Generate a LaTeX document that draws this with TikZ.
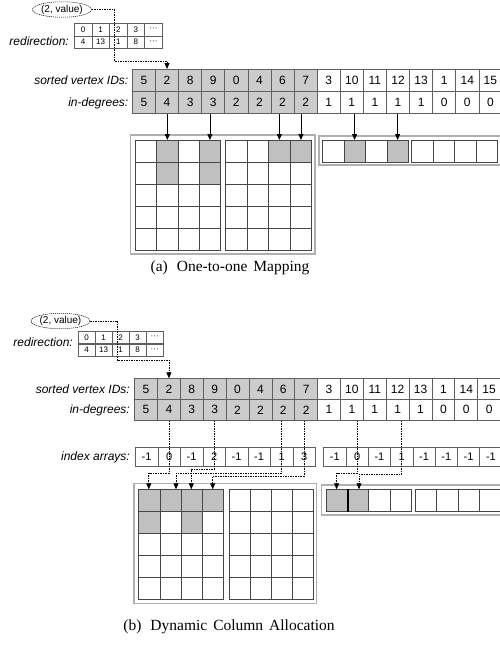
\documentclass[tikz,border=0pt]{standalone}
\usepackage{fontspec}
\setmainfont{Liberation Serif}
\setsansfont{Liberation Sans}
\usetikzlibrary{arrows.meta,backgrounds,shapes.geometric}
\definecolor{cellgray}{RGB}{204,204,204}
\definecolor{mgray}{RGB}{192,192,192}
\definecolor{bordergray}{RGB}{95,95,95}
\definecolor{gridgray}{RGB}{70,70,70}
\definecolor{boxgray}{RGB}{175,175,175}
\tikzset{
  lbl/.style={font=\sffamily\itshape\fontsize{12}{14}\selectfont, anchor=base east, inner sep=0pt},
  tcell/.style={draw=bordergray, line width=0.7pt, minimum width=23.1pt, minimum height=22.2pt, inner sep=0pt, anchor=north west, font=\sffamily\fontsize{12}{14}\selectfont},
  rcell/.style={draw=bordergray, line width=0.5pt, minimum width=17.6pt, minimum height=12.8pt, inner sep=0pt, anchor=north west, font=\sffamily\fontsize{8}{9}\selectfont},
  icell/.style={draw=bordergray, line width=0.7pt, minimum width=22.5pt, minimum height=18.2pt, inner sep=0pt, anchor=north west, font=\sffamily\fontsize{11}{13}\selectfont},
  mcell/.style={draw=gridgray, line width=0.7pt, minimum height=22pt, inner sep=0pt, anchor=north west},
  outerbox/.style={draw=boxgray, line width=1.2pt},
  ell/.style={ellipse, draw, dash pattern=on 1.2pt off 0.8pt, line width=0.5pt, inner sep=0pt, minimum width=48pt, minimum height=15.5pt, font=\sffamily\fontsize{10}{12}\selectfont},
  dotarr/.style={dash pattern=on 1.5pt off 1pt, line width=0.8pt, -{Triangle[length=6pt,width=5pt]}},
  arr/.style={line width=0.8pt, -{Triangle[length=6pt,width=5pt]}},
  capt/.style={font=\fontsize{15.5}{18}\selectfont, inner sep=0pt}
}
\begin{document}
\begin{tikzpicture}[x=1pt,y=-1pt]
\useasboundingbox (0,0) rectangle (500,646);

%================ (a) =================
% redirection table
\foreach \v [count=\i from 0] in {0,1,2,3,···}
  \node[rcell] (ra0-\i) at ({74+\i*17.6},22.7) {\v};
\foreach \v [count=\i from 0] in {4,13,1,8,···}
  \node[rcell] (ra1-\i) at ({74+\i*17.6},35.5) {\v};
\node[lbl] (rla) at (69,45.5) {redirection:};
\node[ell] (ea) at (62,9.5) {(2, value)};

% sorted IDs and in-degrees
\foreach \v [count=\i from 0] in {5,2,8,9,0,4,6,7}
  \node[tcell,fill=cellgray] (aid-\i) at ({132+\i*23.1},69) {\v};
\foreach \v [count=\i from 8] in {3,10,11,12,13,1,14,15}
  \node[tcell] (aid-\i) at ({132+\i*23.1},69) {\v};
\foreach \v [count=\i from 0] in {5,4,3,3,2,2,2,2}
  \node[tcell,fill=cellgray] (adg-\i) at ({132+\i*23.1},91.2) {\v};
\foreach \v [count=\i from 8] in {1,1,1,1,1,0,0,0}
  \node[tcell] (adg-\i) at ({132+\i*23.1},91.2) {\v};
\node[lbl] (lsa) at (128.5,84.5) {sorted vertex IDs:};
\node[lbl] (lda) at (128.5,106.7) {in-degrees:};

\coordinate (ka) at (114.3,61);
\draw[dotarr] (ea.east) -| (ka) -| (aid-1.north);

% matrices
\draw[outerbox] (130.7,135) rectangle (315,254);
\foreach \r in {0,...,4}
  \foreach \c in {0,...,3} {
    \node[mcell, minimum width=21.3pt] (am1-\r-\c) at ({135+\c*21.3},{140+\r*22}) {};
    \node[mcell, minimum width=21.6pt] (am2-\r-\c) at ({225+\c*21.6},{140+\r*22}) {};
  }
% row vectors
\draw[outerbox] (319,136) rectangle (506,165);
\foreach \c in {0,...,3} {
  \node[mcell, minimum width=21.5pt] (av1-\c) at ({322+\c*21.5},140) {};
  \node[mcell, minimum width=21.5pt] (av2-\c) at ({411+\c*21.5},140) {};
}
\draw[arr] (am1-0-1.north |- adg-1.south) -- (am1-0-1.north);
\draw[arr] (am1-0-3.north |- adg-3.south) -- (am1-0-3.north);
\draw[arr] (am2-0-2.north |- adg-6.south) -- (am2-0-2.north);
\draw[arr] (am2-0-3.north |- adg-7.south) -- (am2-0-3.north);
\draw[arr] (av1-1.north |- adg-9.south) -- (av1-1.north);
\draw[arr] (av1-3.north |- adg-11.south) -- (av1-3.north);

\node[capt] (capa) at (230,268) {(a)\hspace{9pt}One-to-one\hspace{6pt}Mapping};

%================ (b) =================
\foreach \v [count=\i from 0] in {0,1,2,3,···}
  \node[rcell, minimum width=17.06pt] (rb0-\i) at ({77.7+\i*17.06},330.7) {\v};
\foreach \v [count=\i from 0] in {4,13,1,8,···}
  \node[rcell, minimum width=17.06pt] (rb1-\i) at ({77.7+\i*17.06},343.4) {\v};
\node[lbl] (rlb) at (73,346.5) {redirection:};
\node[ell] (eb) at (60.5,321) {(2, value)};

\foreach \v [count=\i from 0] in {5,2,8,9,0,4,6,7}
  \node[tcell,fill=cellgray,minimum width=22.87pt,minimum height=20.7pt] (bid-\i) at ({134.3+\i*22.87},378.3) {\v};
\foreach \v [count=\i from 8] in {3,10,11,12,13,1,14,15}
  \node[tcell,minimum width=22.87pt,minimum height=20.7pt] (bid-\i) at ({134.3+\i*22.87},378.3) {\v};
\foreach \v [count=\i from 0] in {5,4,3,3,2,2,2,2}
  \node[tcell,fill=cellgray,minimum width=22.87pt,minimum height=21pt] (bdg-\i) at ({134.3+\i*22.87},399) {\v};
\foreach \v [count=\i from 8] in {1,1,1,1,1,0,0,0}
  \node[tcell,minimum width=22.87pt,minimum height=21pt] (bdg-\i) at ({134.3+\i*22.87},399) {\v};
\node[lbl] (lsb) at (130,393) {sorted vertex IDs:};
\node[lbl] (ldb) at (130,413.8) {in-degrees:};

\coordinate (kb) at (117.7,360);
\draw[dotarr] (eb.east) -| (kb) -| (bid-1.north);

% index arrays
\foreach \v [count=\i from 0] in {-1,0,-1,2,-1,-1,1,3}
  \node[icell] (bix1-\i) at ({135+\i*22.5},447.3) {\v};
\foreach \v [count=\i from 0] in {-1,0,-1,1,-1,-1,-1,-1}
  \node[icell, minimum width=22.3pt] (bix2-\i) at ({323.3+\i*22.3},447.3) {\v};
\node[lbl] (lib) at (130,460.7) {index arrays:};

% matrices
\draw[outerbox] (134,483.3) rectangle (316.7,603.5);
\foreach \r in {0,...,4}
  \foreach \c in {0,...,3} {
    \node[mcell, minimum width=21.25pt] (bm1-\r-\c) at ({138.3+\c*21.25},{489.3+\r*22}) {};
    \node[mcell, minimum width=21pt] (bm2-\r-\c) at ({229+\c*21},{489.3+\r*22}) {};
  }
\draw[outerbox] (321.7,485) rectangle (506,515);
\foreach \c in {0,...,3} {
  \node[mcell, minimum width=21.2pt, minimum height=21.7pt] (bv1-\c) at ({326+\c*21.2},489.3) {};
  \node[mcell, minimum width=21.25pt, minimum height=21.7pt] (bv2-\c) at ({415+\c*21.25},489.3) {};
}
\draw[line width=1.3pt] (bv1-0.north east) -- (bv1-0.south east);

% dotted routes
\coordinate (bt1) at (148.8,473.3);
\coordinate (bt2) at (191.3,469.3);
\coordinate (bt3) at (176,473.3);
\coordinate (bt4) at (212.7,476);
\coordinate (bt5) at (336.6,473.3);
\coordinate (bt6) at (359,474.3);
\draw[dotarr] (bix1-1 |- bdg-1.south) |- (bt1) -- (bt1 |- bm1-0-0.north);
\draw[dotarr] (bix1-3 |- bdg-3.south) |- (bt2) -- (bt2 |- bm1-0-2.north);
\draw[dotarr] (bix1-6 |- bdg-6.south) |- (bt3) -- (bt3 |- bm1-0-1.north);
\draw[dotarr] (bix1-7 |- bdg-7.south) |- (bt4) -- (bt4 |- bm1-0-3.north);
\draw[dotarr] (bix2-1 |- bdg-9.south) |- (bt5) -- (bt5 |- bv1-0.north);
\draw[dotarr] (bix2-3 |- bdg-11.south) |- (bt6) -- (bt6 |- bv1-1.north);

\node[capt] (capb) at (229,627) {(b)\hspace{9pt}Dynamic\hspace{6pt}Column\hspace{6pt}Allocation};

% gray fills
\begin{scope}[on background layer]
  \foreach \n in {am1-0-1,am1-0-3,am1-1-1,am1-1-3,am2-0-2,am2-0-3,av1-1,av1-3,
                  bm1-0-0,bm1-0-1,bm1-0-2,bm1-0-3,bm1-1-0,bm1-1-2,bv1-0,bv1-1}
    \fill[mgray] (\n.north west) rectangle (\n.south east);
\end{scope}
\end{tikzpicture}
\end{document}
